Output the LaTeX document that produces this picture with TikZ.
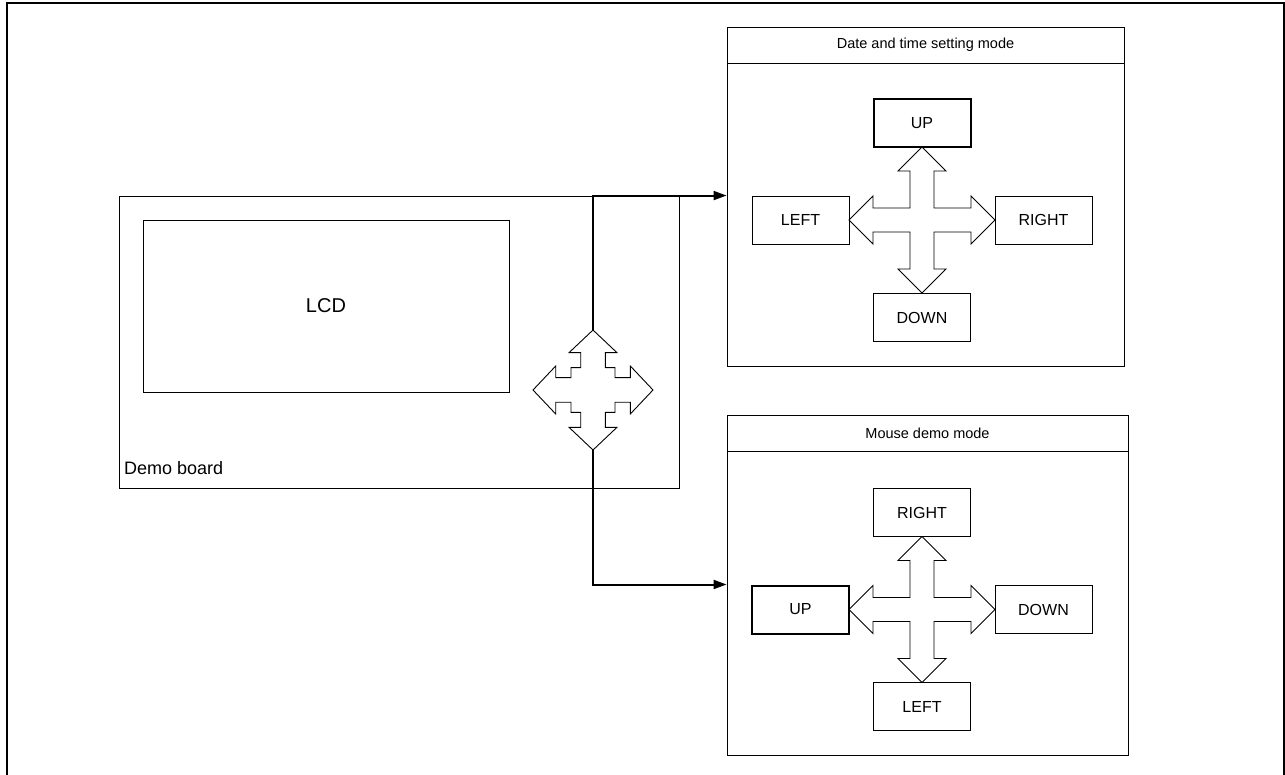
\documentclass[tikz,border=0pt]{standalone}
\usepackage{fontspec}
\setmainfont{Liberation Sans}
\usetikzlibrary{arrows.meta}
\begin{document}
\begin{tikzpicture}[x=1pt,y=-1pt,
  thin line/.style={line width=0.9pt},
  keybox/.style={draw, thin line, minimum width=97pt, minimum height=48pt, inner sep=0pt, font=\fontsize{16}{19}\selectfont},
  activekey/.style={keybox, line width=2pt},
  panel/.style={draw, thin line, inner sep=0pt},
  panelhead/.style={draw, thin line, inner sep=0pt, minimum height=36pt, anchor=north, font=\fontsize{14.5}{17}\selectfont},
  conn/.style={line width=2pt, -{Triangle[length=13pt,width=9pt]}},
  dircross/.pic={
    \draw[thin line, fill=white]
      (0,-73) -- (-24,-49) -- (-12,-49) -- (-12,-12) -- (-49,-12) -- (-49,-24) -- (-73,0)
      -- (-49,24) -- (-49,12) -- (-12,12) -- (-12,49) -- (-24,49) -- (0,73)
      -- (24,49) -- (12,49) -- (12,12) -- (49,12) -- (49,24) -- (73,0)
      -- (49,-24) -- (49,-12) -- (12,-12) -- (12,-49) -- (24,-49) -- cycle;
  },
  joystick/.pic={
    \draw[thin line, fill=white]
      (0,-60) -- (-24,-37.3) -- (-12.3,-37.3) -- (-12.3,-22.3) -- (-22,-22.3) -- (-22,-12.3)
      -- (-37.3,-12.3) -- (-37.3,-24) -- (-60,0)
      -- (-37.3,24) -- (-37.3,12.3) -- (-22,12.3) -- (-22,22.3) -- (-12.3,22.3) -- (-12.3,37.3)
      -- (-24,37.3) -- (0,60)
      -- (24,37.3) -- (12.3,37.3) -- (12.3,22.3) -- (22,22.3) -- (22,12.3) -- (37.3,12.3)
      -- (37.3,24) -- (60,0)
      -- (37.3,-24) -- (37.3,-12.3) -- (22,-12.3) -- (22,-22.3) -- (12.3,-22.3) -- (12.3,-37.3)
      -- (24,-37.3) -- cycle;
  }
]
\useasboundingbox (0,0) rectangle (1285,775);
% outer frame (bottom edge outside the picture)
\draw[line width=1.5pt] (7,776) -- (7,3) -- (1284,3) -- (1284,776);

% demo board
\node[panel, minimum width=560pt, minimum height=292pt] (board) at (399,342) {};
\node[panel, minimum width=366pt, minimum height=172pt, font=\fontsize{20}{24}\selectfont] (lcd) at (326,306) {LCD};
\node[anchor=west, inner sep=0pt, font=\fontsize{18}{21}\selectfont] (boardlabel) at (124,468) {Demo board};

% joystick
\pic at (593,390) {joystick};
\coordinate (jstop) at (593,330);
\coordinate (jsbot) at (593,450);

% panel 1
\node[panel, minimum width=397pt, minimum height=339pt] (p1) at (925.5,196.5) {};
\node[panelhead, minimum width=397pt] (t1) at (p1.north) {Date and time setting mode};
\pic at (922,220) {dircross};
\node[activekey] (upA) at (922,123) {UP};
\node[keybox] (leftA) at (800.5,220) {LEFT};
\node[keybox] (rightA) at (1043.5,220) {RIGHT};
\node[keybox] (downA) at (922,317.5) {DOWN};

% panel 2
\node[panel, minimum width=401pt, minimum height=340pt] (p2) at (927.5,585) {};
\node[panelhead, minimum width=401pt] (t2) at (p2.north) {Mouse demo mode};
\pic at (922,609.5) {dircross};
\node[keybox] (rightB) at (922,512.5) {RIGHT};
\node[activekey] (upB) at (800.5,609.5) {UP};
\node[keybox] (downB) at (1043.5,609.5) {DOWN};
\node[keybox] (leftB) at (922,706.5) {LEFT};

% connectors
\draw[conn] (jstop) |- (p1.west |- leftA.north);
\draw[conn] (jsbot) |- (p2.west |- upB.north);
\end{tikzpicture}
\end{document}
